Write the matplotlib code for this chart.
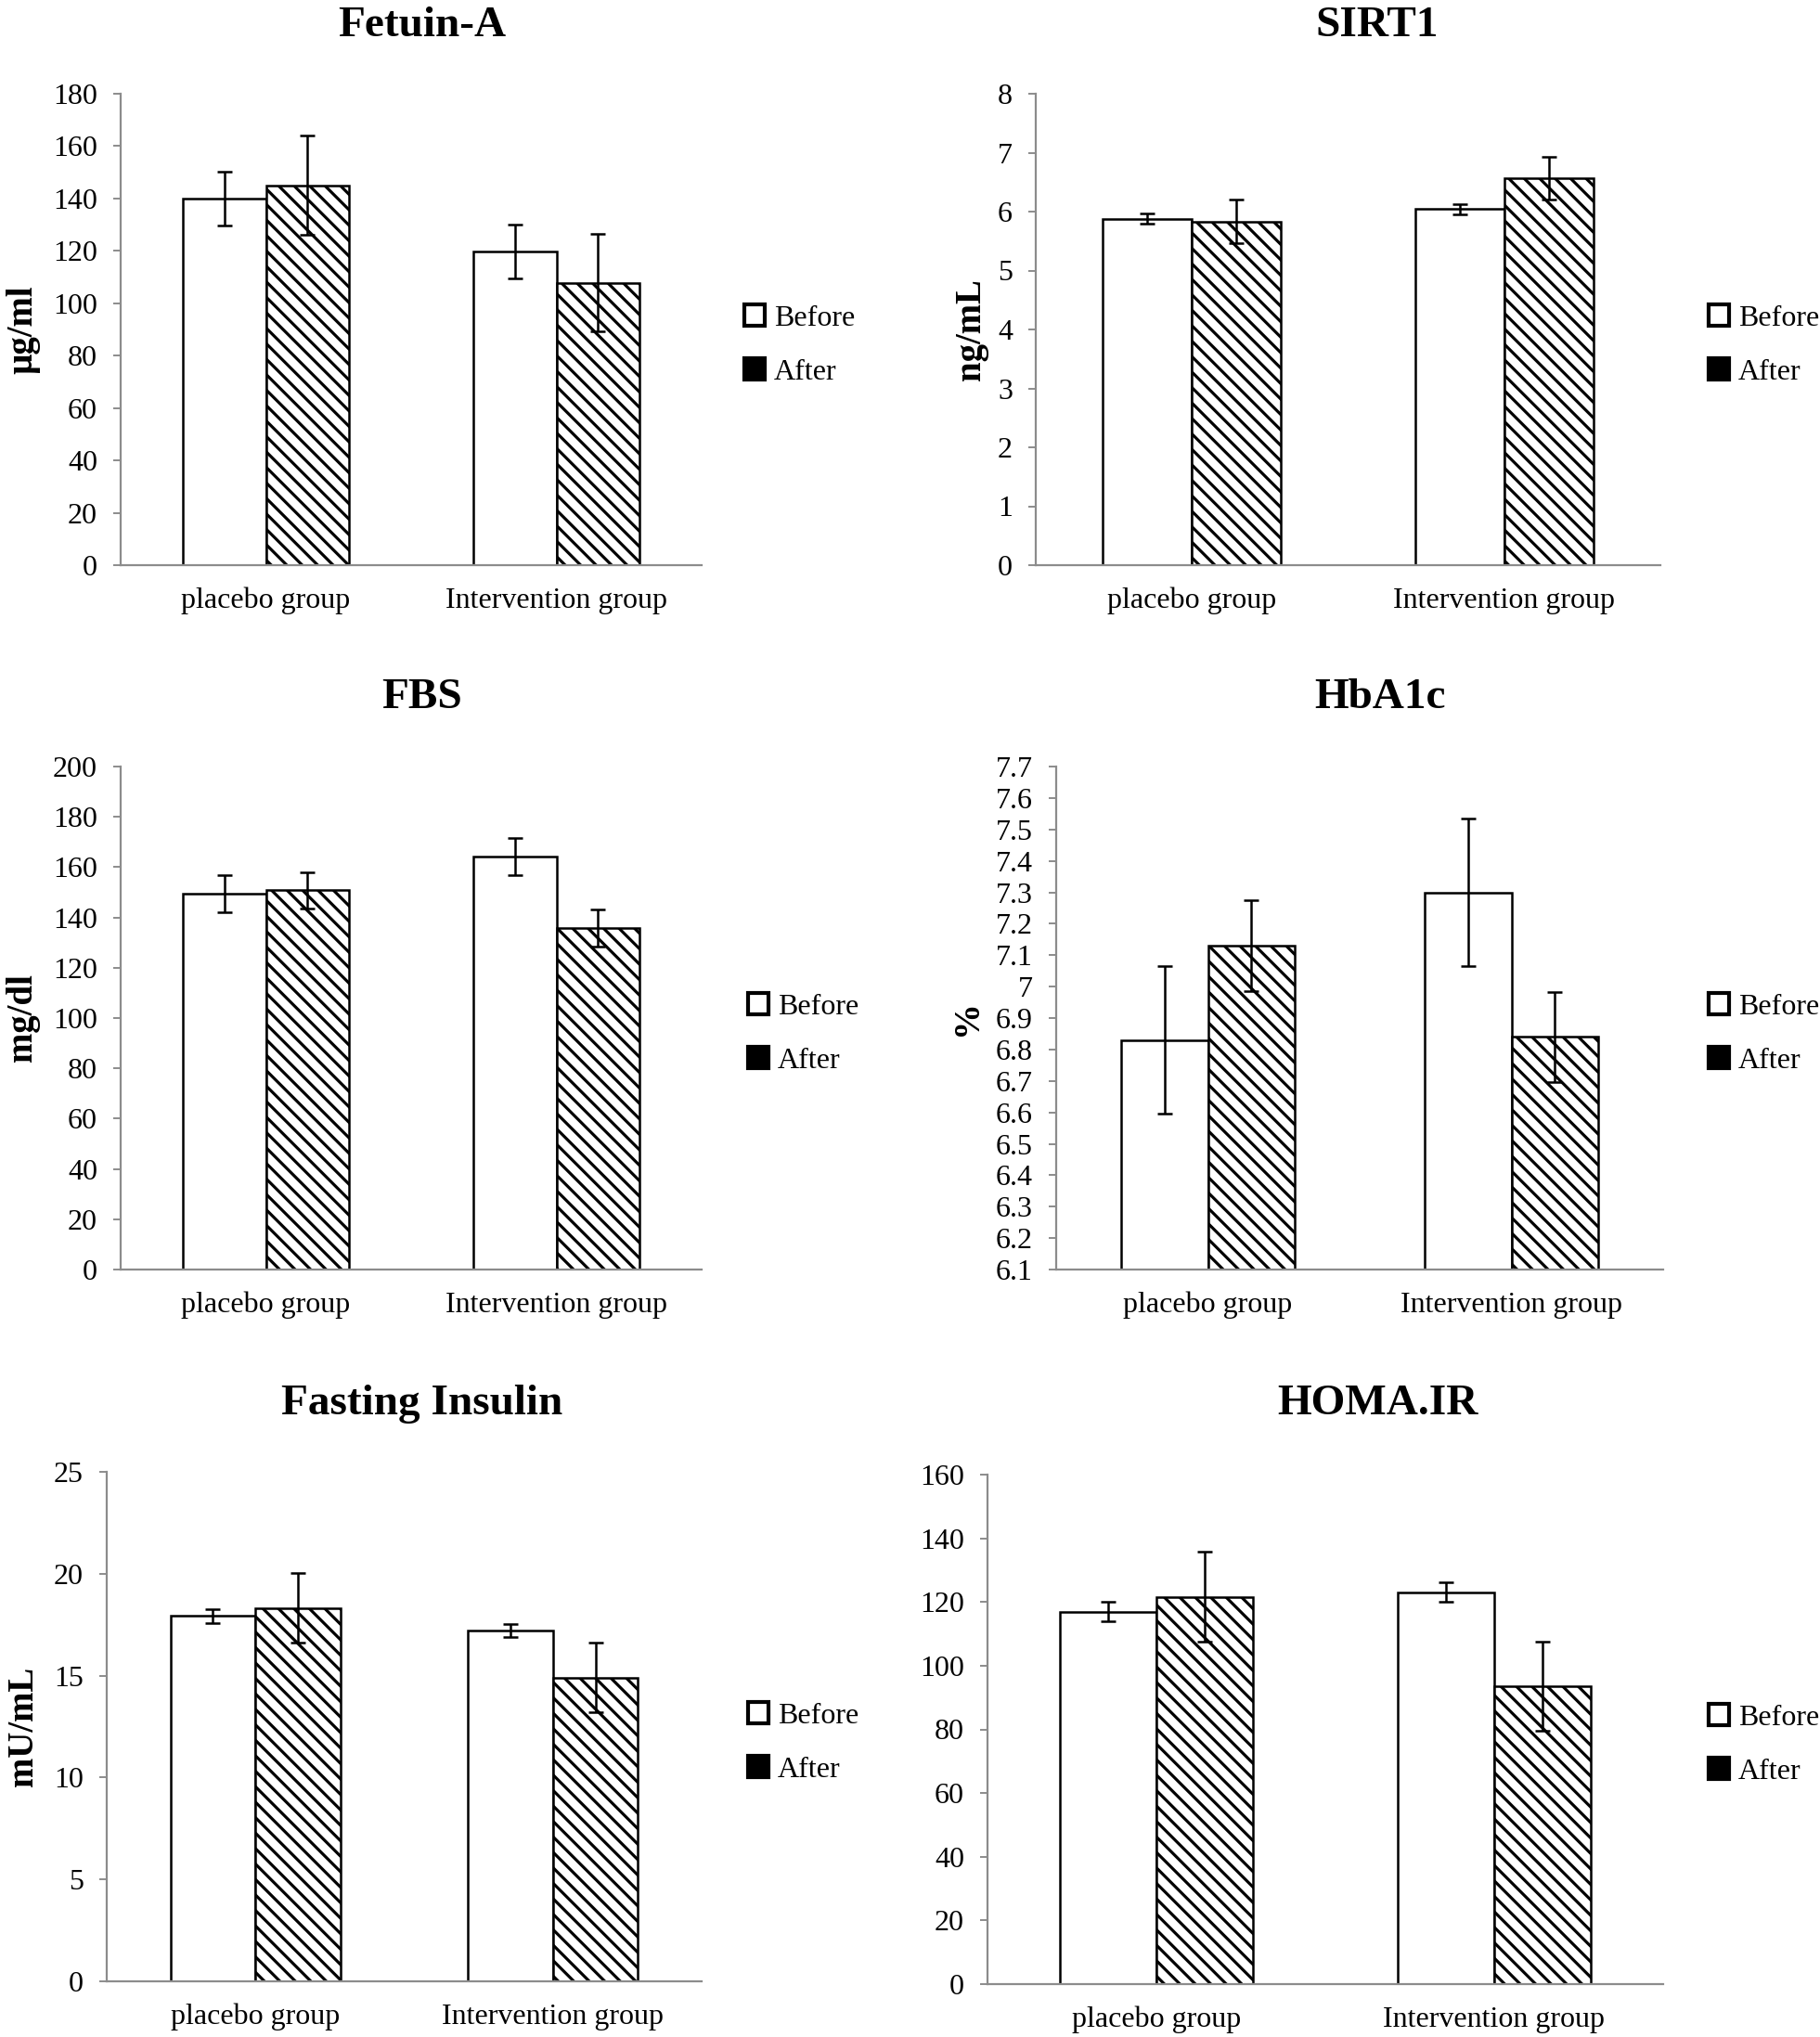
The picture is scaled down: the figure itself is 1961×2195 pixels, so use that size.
import matplotlib.pyplot as plt
from matplotlib.patches import Patch
from matplotlib.ticker import FuncFormatter
import numpy as np

plt.rcParams['font.family'] = ['Liberation Serif', 'DejaVu Serif']
plt.rcParams['hatch.linewidth'] = 2.3

### data ###
groups = ['placebo group', 'Intervention group']
series = ['Before', 'After']

# Fetuin-A (ug/ml)
fetuin_before = [140.0, 119.7]
fetuin_after = [145.0, 107.8]
fetuin_err_before = [10.3, 10.3]
fetuin_err_after = [19.0, 18.6]

# SIRT1 (ng/mL)
sirt1_before = [5.88, 6.04]
sirt1_after = [5.83, 6.57]
sirt1_err_before = [0.09, 0.09]
sirt1_err_after = [0.37, 0.36]

# FBS (mg/dl)
fbs_before = [149.4, 164.2]
fbs_after = [150.8, 135.8]
fbs_err_before = [7.4, 7.4]
fbs_err_after = [7.3, 7.3]

# HbA1c (%)
hba1c_before = [6.83, 7.30]
hba1c_after = [7.13, 6.84]
hba1c_err_before = [0.235, 0.235]
hba1c_err_after = [0.145, 0.143]

# Fasting insulin (mU/mL)
insulin_before = [17.92, 17.22]
insulin_after = [18.32, 14.90]
insulin_err_before = [0.33, 0.33]
insulin_err_after = [1.7, 1.7]

# HOMA.IR
homa_before = [117.0, 123.1]
homa_after = [121.6, 93.5]
homa_err_before = [3.1, 3.1]
homa_err_after = [14.1, 13.9]

W, H = 1961, 2195
fig = plt.figure(figsize=(W / 100, H / 100), dpi=100)


def rect(l, r, t, b):
    return [l / W, 1 - b / H, (r - l) / W, (b - t) / H]


panels = [
    # title, ylabel, before, after, err before, err after, ymin, ymax, step, axes box, title xy, ylabel x, legend xy
    ('Fetuin-A', 'µg/ml', fetuin_before, fetuin_after, fetuin_err_before, fetuin_err_after,
     0, 180, 20, (130, 756, 101, 609), (455, 28), 25, (802, 372)),
    ('SIRT1', 'ng/mL', sirt1_before, sirt1_after, sirt1_err_before, sirt1_err_after,
     0, 8, 1, (1116, 1789, 101, 609), (1484, 28), 1046, (1841, 372)),
    ('FBS', 'mg/dl', fbs_before, fbs_after, fbs_err_before, fbs_err_after,
     0, 200, 20, (130, 756, 826, 1368), (455, 752), 25, (806, 1114)),
    ('HbA1c', '%', hba1c_before, hba1c_after, hba1c_err_before, hba1c_err_after,
     6.1, 7.7, 0.1, (1138, 1792, 826, 1368), (1487, 752), 1043, (1841, 1114)),
    ('Fasting Insulin', 'mU/mL', insulin_before, insulin_after, insulin_err_before, insulin_err_after,
     0, 25, 5, (115, 756, 1586, 2135), (455, 1513), 25, (806, 1878)),
    ('HOMA.IR', None, homa_before, homa_after, homa_err_before, homa_err_after,
     0, 160, 20, (1064, 1792, 1589, 2138), (1484, 1513), None, (1841, 1880)),
]

x = np.arange(len(groups))
w = 1 / 3.5
axis_grey = '#8c8c8c'
hatch = '\\\\'

for (title, ylab, vb, va, eb, ea, ymin, ymax, step, box, txy, ylx, lxy) in panels:
    ax = fig.add_axes(rect(*box))
    ax.bar(x - w / 2, np.array(vb) - ymin, w, bottom=ymin, color='white',
           edgecolor='black', linewidth=1.8, zorder=2)
    ax.bar(x + w / 2, np.array(va) - ymin, w, bottom=ymin, color='white',
           edgecolor='black', linewidth=1.8, hatch=hatch, zorder=2)
    ax.errorbar(x - w / 2, vb, yerr=eb, fmt='none', ecolor='black',
                elinewidth=1.8, capsize=6, capthick=1.8, zorder=3)
    ax.errorbar(x + w / 2, va, yerr=ea, fmt='none', ecolor='black',
                elinewidth=1.8, capsize=6, capthick=1.8, zorder=3)

    ax.set_xlim(-0.5, len(groups) - 0.5)
    ax.set_ylim(ymin, ymax)
    ticks = np.arange(ymin, ymax + step / 2, step)
    ax.set_yticks(ticks)
    ax.yaxis.set_major_formatter(FuncFormatter(lambda v, p: '%g' % round(v, 1)))
    ax.set_xticks(x)
    ax.set_xticklabels(groups)

    for s in ['top', 'right']:
        ax.spines[s].set_visible(False)
    for s in ['left', 'bottom']:
        ax.spines[s].set_color(axis_grey)
        ax.spines[s].set_linewidth(1.6)
    ax.tick_params(axis='y', direction='out', length=6, width=1.4, color=axis_grey,
                   labelsize=23, pad=12)
    ax.tick_params(axis='x', length=0, labelsize=23, pad=17)

    fig.text(txy[0] / W, 1 - txy[1] / H, title, ha='center', va='center',
             fontsize=34, fontweight='bold')
    if ylab is not None:
        cy = (box[2] + box[3]) / 2
        fig.text(ylx / W, 1 - cy / H, ylab, ha='center', va='center', rotation=90,
                 fontsize=28, fontweight='bold')

    handles = [Patch(facecolor='white', edgecolor='black', linewidth=3),
               Patch(facecolor='black', edgecolor='black', linewidth=3)]
    fig.legend(handles, series, loc='center left',
               bbox_to_anchor=(lxy[0] / W, 1 - lxy[1] / H),
               frameon=False, fontsize=23, handlelength=0.7, handleheight=0.7,
               handletextpad=0.3, labelspacing=0.9, borderpad=0, borderaxespad=0)

fig.savefig('out.png', dpi=100)
